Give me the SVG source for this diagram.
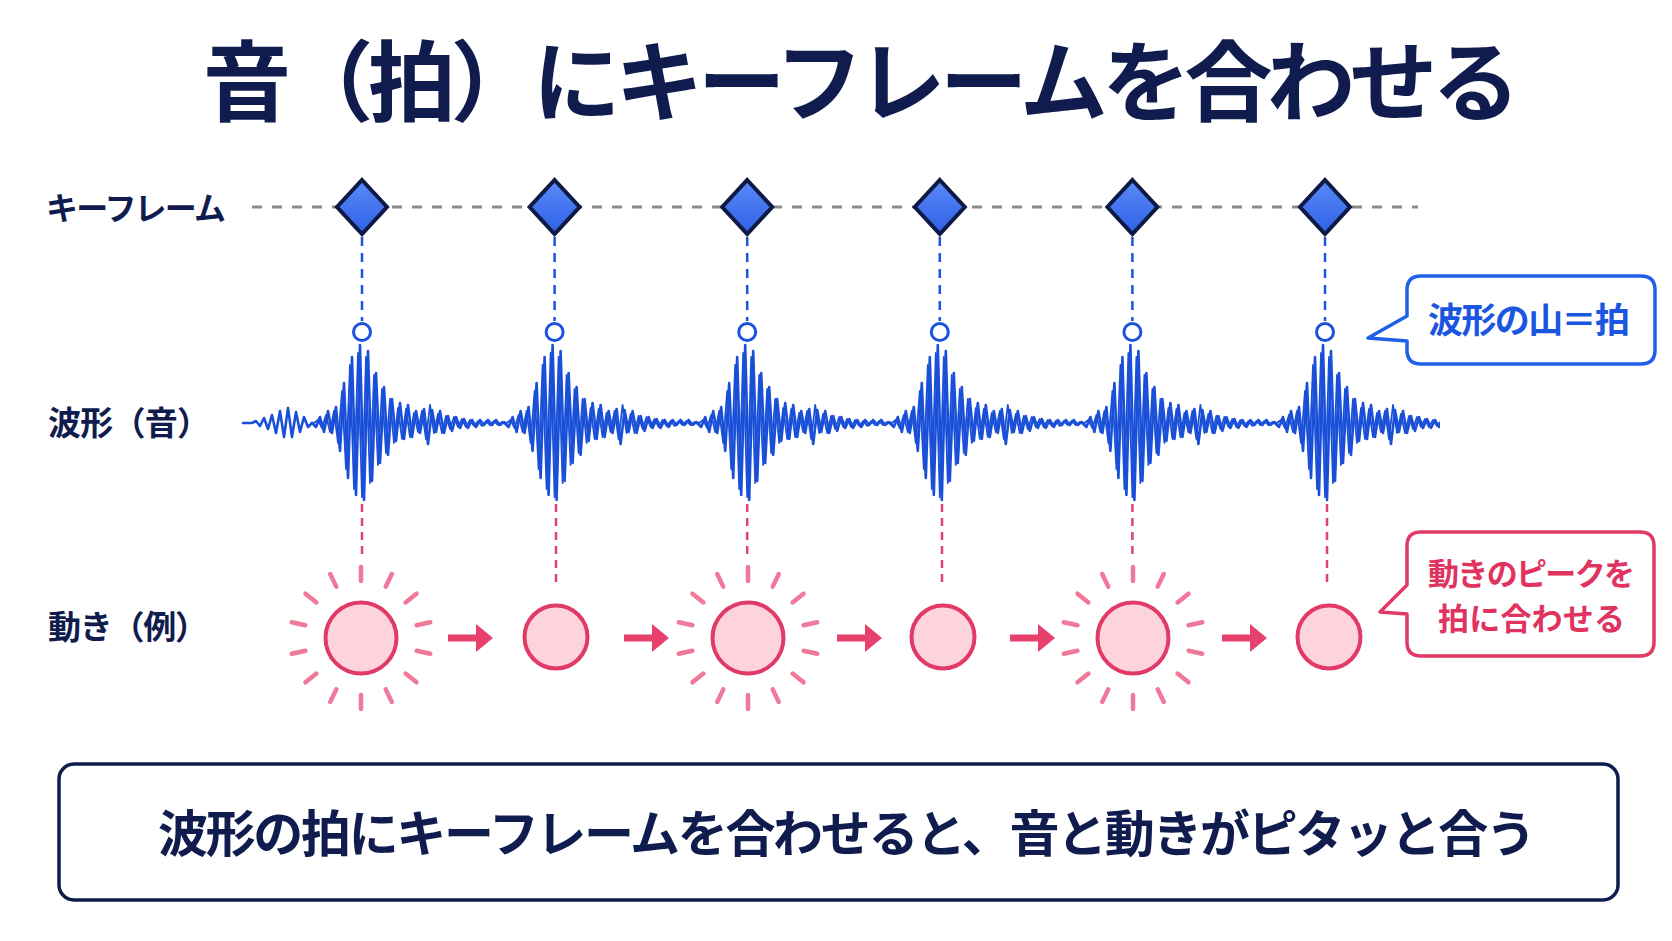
<svg xmlns="http://www.w3.org/2000/svg" xmlns:xlink="http://www.w3.org/1999/xlink" width="1672" height="941" viewBox="0 0 1672 941">
<style>
.jp{font-family:"Noto Sans CJK JP","Noto Sans CJK SC",sans-serif;font-weight:700}
.navy{fill:#0f1c4d}
.kdash{stroke:#8a8a8a;stroke-width:3;stroke-dasharray:10 10;fill:none}
.bdash{stroke:#1d52dc;stroke-width:2.5;stroke-dasharray:9 7;fill:none}
.pdash{stroke:#e2436d;stroke-width:2.5;stroke-dasharray:8 6;fill:none}
.kf{fill:url(#kfg);stroke:#0e1a44;stroke-width:4;stroke-linejoin:miter}
.mk{fill:#fff;stroke:#1d52dc;stroke-width:3}
.wv{fill:none;stroke:#1a4fd8;stroke-linejoin:round;stroke-linecap:round}
.mc{fill:#fdd3dd;stroke:#e13a66;stroke-width:4}
.ray{stroke:#f07898;stroke-width:4.5;stroke-linecap:round}
.arr{fill:#e8406c}
</style>
<defs>
<linearGradient id="kfg" x1="0" y1="0" x2="0" y2="1">
<stop offset="0" stop-color="#5a8af8"/>
<stop offset="1" stop-color="#2f60e6"/>
</linearGradient>
<path id="diamond" class="kf" d="M0,-27 L25,0 L0,27 L-25,0 Z"/>
<path id="burstA" d="M-50,0 L-46,4 L-42,-6 L-38,9 L-34,-12 L-30,10 L-26,-16 L-22,28 L-18,-40 L-14,55 L-10,-66 L-6,72 L-2,-78 L2,77 L6,-72 L10,58 L14,-50 L18,40 L22,-36 L26,32 L30,-24 L34,18 L38,-20 L42,16 L46,-18 L50,14 L54,-12 L58,10 L62,-14 L66,21 L70,-13 L74,9 L78,-12 L82,10 L86,-7 L90,8 L94,-6 L98,5 L102,-4 L106,5 L110,-3 L114,4 L118,-3 L122,2 L126,-3 L130,2 L134,-3 L138,2 L142,-1 L142.6,0"/>
<path id="burstB" d="M-48,0 L-44,-3 L-40,5 L-36,-8 L-32,9 L-28,-12 L-24,20 L-20,-32 L-16,46 L-12,-58 L-8,66 L-4,-70 L0,74 L4,-66 L8,60 L12,-48 L16,42 L20,-34 L24,30 L28,-24 L32,20 L36,-15 L40,16 L44,-14 L48,14 L52,-10 L56,9 L60,-12 L64,16 L68,-18 L72,10 L76,-9 L80,10 L84,-7 L88,6 L92,-6 L96,4 L100,-4 L104,4 L108,-3 L112,3 L116,-2 L120,3 L124,-2 L128,2 L132,-2 L136,2 L140,-1 L144.6,0"/>
<g id="rays">
<line class="ray" x1="0" y1="-57" x2="0" y2="-71"/>
<line class="ray" x1="0" y1="-57" x2="0" y2="-71" transform="rotate(25.714)"/>
<line class="ray" x1="0" y1="-57" x2="0" y2="-71" transform="rotate(51.429)"/>
<line class="ray" x1="0" y1="-57" x2="0" y2="-71" transform="rotate(77.143)"/>
<line class="ray" x1="0" y1="-57" x2="0" y2="-71" transform="rotate(102.857)"/>
<line class="ray" x1="0" y1="-57" x2="0" y2="-71" transform="rotate(128.571)"/>
<line class="ray" x1="0" y1="-57" x2="0" y2="-71" transform="rotate(154.286)"/>
<line class="ray" x1="0" y1="-57" x2="0" y2="-71" transform="rotate(180)"/>
<line class="ray" x1="0" y1="-57" x2="0" y2="-71" transform="rotate(205.714)"/>
<line class="ray" x1="0" y1="-57" x2="0" y2="-71" transform="rotate(231.429)"/>
<line class="ray" x1="0" y1="-57" x2="0" y2="-71" transform="rotate(257.143)"/>
<line class="ray" x1="0" y1="-57" x2="0" y2="-71" transform="rotate(282.857)"/>
<line class="ray" x1="0" y1="-57" x2="0" y2="-71" transform="rotate(308.571)"/>
<line class="ray" x1="0" y1="-57" x2="0" y2="-71" transform="rotate(334.286)"/>
</g>
<path id="arrow" class="arr" d="M-22,-3.5 H6 V-14 L23,0 L6,14 V3.5 H-22 Z"/>
<clipPath id="wclip"><rect x="240" y="300" width="1200" height="260"/></clipPath>
</defs>

<rect width="1672" height="941" fill="#ffffff"/>

<g id="title">
<text class="jp navy" x="203" y="114" font-size="88" font-weight="900" textLength="1317" lengthAdjust="spacing">音（拍）にキーフレームを合わせる</text>
</g>

<g id="row-labels">
<text class="jp navy" x="46" y="220" font-size="32" textLength="180" lengthAdjust="spacing">キーフレーム</text>
<text class="jp navy" x="48" y="435" font-size="33" textLength="162" lengthAdjust="spacing">波形（音）</text>
<text class="jp navy" x="48" y="639" font-size="33" textLength="160" lengthAdjust="spacing">動き（例）</text>
</g>

<g id="connectors">
<line class="kdash" x1="252" y1="207" x2="1418" y2="207"/>
<line class="bdash" x1="362" y1="237" x2="362" y2="321"/>
<line class="bdash" x1="554.6" y1="237" x2="554.6" y2="321"/>
<line class="bdash" x1="747.2" y1="237" x2="747.2" y2="321"/>
<line class="bdash" x1="939.8" y1="237" x2="939.8" y2="321"/>
<line class="bdash" x1="1132.4" y1="237" x2="1132.4" y2="321"/>
<line class="bdash" x1="1325" y1="237" x2="1325" y2="321"/>
<line class="pdash" x1="362" y1="504" x2="362" y2="560"/>
<line class="pdash" x1="556" y1="504" x2="556" y2="584"/>
<line class="pdash" x1="747.2" y1="504" x2="747.2" y2="560"/>
<line class="pdash" x1="942" y1="504" x2="942" y2="584"/>
<line class="pdash" x1="1132.4" y1="504" x2="1132.4" y2="560"/>
<line class="pdash" x1="1327" y1="504" x2="1327" y2="584"/>
<use href="#arrow" x="470" y="638"/>
<use href="#arrow" x="646" y="638"/>
<use href="#arrow" x="859" y="638"/>
<use href="#arrow" x="1032" y="638"/>
<use href="#arrow" x="1244" y="638"/>
</g>

<g id="keyframes">
<use href="#diamond" x="362" y="207"/>
<use href="#diamond" x="554.6" y="207"/>
<use href="#diamond" x="747.2" y="207"/>
<use href="#diamond" x="939.8" y="207"/>
<use href="#diamond" x="1132.4" y="207"/>
<use href="#diamond" x="1325" y="207"/>
</g>

<g id="waveform">
<path class="wv" stroke-width="2.6" d="M243,423 L252,423 L256,421 L260,426 L264,418 L268,429 L272,415 L276,433 L280,411 L284,437 L288,408 L292,437 L296,412 L300,432 L304,417 L308,427 L312,423"/>
<g clip-path="url(#wclip)">
<g class="wv" stroke-width="2.6">
<use href="#burstA" x="362" y="423"/>
<use href="#burstA" x="554.6" y="423"/>
<use href="#burstA" x="747.2" y="423"/>
<use href="#burstA" x="939.8" y="423"/>
<use href="#burstA" x="1132.4" y="423"/>
<use href="#burstA" x="1325" y="423"/>
</g>
<g class="wv" stroke-width="1.8">
<use href="#burstB" x="362" y="423"/>
<use href="#burstB" x="554.6" y="423"/>
<use href="#burstB" x="747.2" y="423"/>
<use href="#burstB" x="939.8" y="423"/>
<use href="#burstB" x="1132.4" y="423"/>
<use href="#burstB" x="1325" y="423"/>
</g>
</g>
</g>

<g id="peak-markers">
<circle class="mk" cx="362" cy="332" r="8.5"/>
<circle class="mk" cx="554.6" cy="332" r="8.5"/>
<circle class="mk" cx="747.2" cy="332" r="8.5"/>
<circle class="mk" cx="939.8" cy="332" r="8.5"/>
<circle class="mk" cx="1132.4" cy="332" r="8.5"/>
<circle class="mk" cx="1325" cy="332" r="8.5"/>
</g>

<g id="motion">
<g id="m1"><use href="#rays" x="361" y="638"/><circle class="mc" cx="361" cy="638" r="35.5"/></g>
<g id="m2"><circle class="mc" cx="556" cy="637" r="31.5"/></g>
<g id="m3"><use href="#rays" x="748" y="638"/><circle class="mc" cx="748" cy="638" r="35.5"/></g>
<g id="m4"><circle class="mc" cx="943" cy="637" r="31.5"/></g>
<g id="m5"><use href="#rays" x="1133" y="638"/><circle class="mc" cx="1133" cy="638" r="35.5"/></g>
<g id="m6"><circle class="mc" cx="1329" cy="637" r="31.5"/></g>
</g>

<g id="bubble-wave">
<path d="M1421,276 H1641 Q1655,276 1655,290 V350 Q1655,364 1641,364 H1421 Q1407,364 1407,350 V341 L1368,338 L1407,316 V290 Q1407,276 1421,276 Z" fill="#ffffff" stroke="#1f5fea" stroke-width="3.5" stroke-linejoin="round"/>
<text class="jp" x="1428" y="333" font-size="35" fill="#1a56e0" textLength="202" lengthAdjust="spacing">波形の山＝拍</text>
</g>

<g id="bubble-motion">
<path d="M1421,532 H1640 Q1654,532 1654,546 V642 Q1654,656 1640,656 H1421 Q1407,656 1407,642 V614 L1380,612 L1407,585 V546 Q1407,532 1421,532 Z" fill="#ffffff" stroke="#e13a66" stroke-width="3.5" stroke-linejoin="round"/>
<text class="jp" x="1428" y="585" font-size="31" fill="#e0335f" textLength="207" lengthAdjust="spacing">動きのピークを</text>
<text class="jp" x="1438" y="630" font-size="31" fill="#e0335f" textLength="187" lengthAdjust="spacing">拍に合わせる</text>
</g>

<g id="summary">
<rect x="59" y="764" width="1559" height="136" rx="15" fill="#ffffff" stroke="#0f1c4d" stroke-width="3.5"/>
<text class="jp navy" x="158" y="852" font-size="50" textLength="1378" lengthAdjust="spacing">波形の拍にキーフレームを合わせると、音と動きがピタッと合う</text>
</g>
</svg>
